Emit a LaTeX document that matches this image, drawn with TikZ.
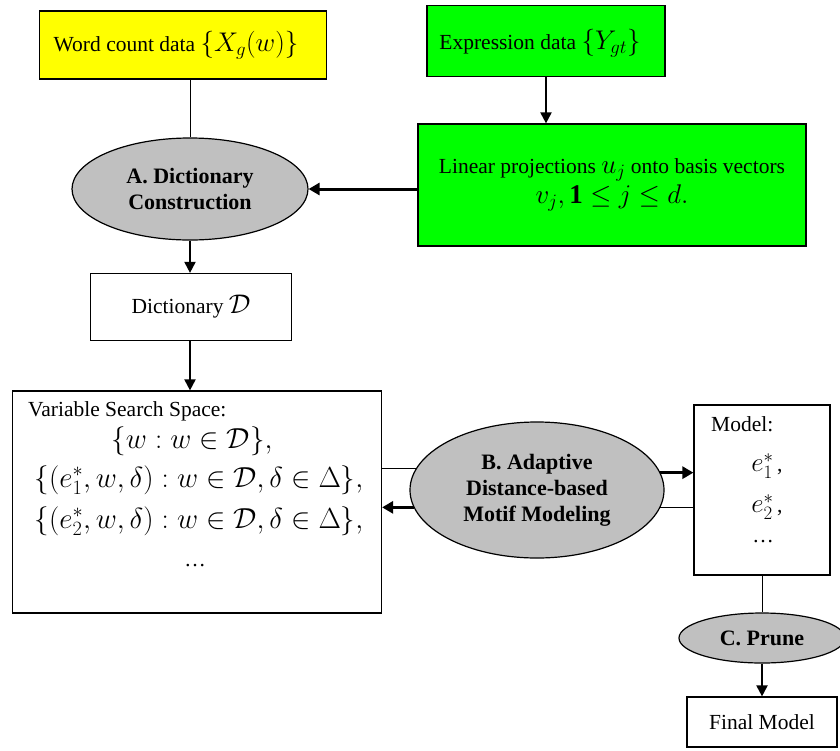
\RequirePackage{fix-cm}
\documentclass[tikz,border=0pt]{standalone}
\usepackage{fontspec}
\setmainfont{Liberation Serif}
\usetikzlibrary{arrows.meta}
\usetikzlibrary{shapes.geometric}

\definecolor{wordyellow}{RGB}{255,255,0}
\definecolor{exprgreen}{RGB}{0,255,0}
\definecolor{stagegrey}{RGB}{192,192,192}

\newcommand{\bigmath}[1]{{\fontsize{27}{30}\selectfont$#1$}}
\newcommand{\hugemath}[1]{{\fontsize{29}{32}\selectfont$#1$}}

\begin{document}
\begin{tikzpicture}[x=1pt,y=-1pt,
	every node/.style={font=\rmfamily\fontsize{21.5}{26}\selectfont},
	databox/.style={draw, line width=1.2pt, inner sep=0pt, align=center},
	stage/.style={ellipse, draw, line width=1.2pt, fill=stagegrey, inner sep=0pt,
	              align=center, font=\rmfamily\fontsize{22}{26}\selectfont\bfseries},
	plain/.style={inner sep=0pt},
	link/.style={line width=0.8pt},
	flow/.style={line width=2pt, -{Triangle[length=11pt,width=11pt]}},
	heavyflow/.style={line width=3pt, -{Triangle[length=11pt,width=12pt]}}]

	\useasboundingbox (0,0) rectangle (840,750);

	% inputs
	\node[databox, fill=wordyellow, minimum width=287, minimum height=68] (words) at (183,45) {};
	\node[plain] (wordstext) at (176,45) {Word count data \bigmath{\{X_g(w)\}}};
	\node[databox, fill=exprgreen, minimum width=238, minimum height=71] (expr) at (546,41) {};
	\node[plain] (exprtext) at (540,43) {Expression data \bigmath{\{Y_{gt}\}}};
	\node[databox, fill=exprgreen, minimum width=388, minimum height=122] (proj) at (612,185)
		{Linear projections \bigmath{u_j} onto basis vectors\\[2pt]
		 \bigmath{v_j, \mathbf{1} \le j \le d.}};

	% stages
	\node[stage, minimum width=236, minimum height=102] (build) at (190,189)
		{A. Dictionary\\Construction};
	\node[databox, minimum width=201, minimum height=67] (dict) at (191,307)
		{Dictionary \bigmath{\mathcal{D}}};

	\node[databox, minimum width=369, minimum height=222] (space) at (197,502) {};
	\node[plain, anchor=west] (spacetitle) at (28,411) {Variable Search Space:};
	\node[plain] (spaceA) at (192,441) {\hugemath{\{w : w \in \mathcal{D}\},}};
	\node[plain] (spaceB) at (199,480) {\hugemath{\{(e_1^*, w, \delta) : w \in \mathcal{D}, \delta \in \Delta\},}};
	\node[plain] (spaceC) at (199,521) {\hugemath{\{(e_2^*, w, \delta) : w \in \mathcal{D}, \delta \in \Delta\},}};
	\node[plain] (spaceD) at (195,566) {\dots};

	\node[stage, minimum width=254, minimum height=136] (adapt) at (537,490)
		{B. Adaptive\\Distance-based\\Motif Modeling};

	\node[databox, minimum width=136, minimum height=170] (model) at (762,490) {};
	\node[plain, anchor=west] (modeltitle) at (711,424) {Model:};
	\node[plain] (modelA) at (767,466) {\bigmath{e_1^*}\,,};
	\node[plain] (modelB) at (767,507) {\bigmath{e_2^*}\,,};
	\node[plain] (modelC) at (763,542) {\dots};

	\node[stage, minimum width=166, minimum height=50] (prune) at (762,638) {C. Prune};
	\node[databox, minimum width=150, minimum height=50] (final) at (762,722) {Final Model};

	% connectors
	\draw[link] (build.north |- words.south) -- (build.north);
	\draw[flow] (expr.south) -- (expr.south |- proj.north);
	\draw[heavyflow] (proj.west |- build.east) -- (build.east);
	\draw[flow] (build.south) -- (build.south |- dict.north);
	\draw[flow] (build.south |- dict.south) -- (build.south |- space.north);

	\draw[link] (space.east |- adapt.170) -- (adapt.170);
	\draw[heavyflow] (adapt.188) -- (space.east |- adapt.188);
	\draw[heavyflow] (adapt.8) -- (model.west |- adapt.8);
	\draw[link] (model.west |- adapt.352) -- (adapt.352);

	\draw[link] (model.south) -- (prune.north);
	\draw[flow] (prune.south) -- (prune.south |- final.north);
\end{tikzpicture}
\end{document}
